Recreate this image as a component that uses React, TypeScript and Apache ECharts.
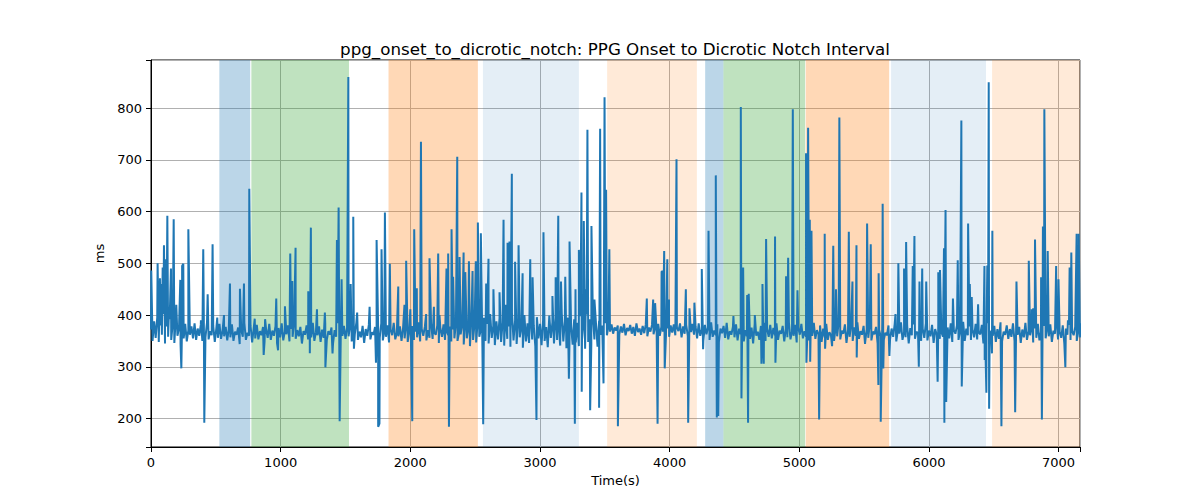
import React, { useEffect, useRef } from "react";
import * as echarts from "echarts";

const TITLE = "ppg_onset_to_dicrotic_notch: PPG Onset to Dicrotic Notch Interval";
const X_NAME = "Time(s)";
const Y_NAME = "ms";
const X_TICKS = [0, 1000, 2000, 3000, 4000, 5000, 6000, 7000];
const Y_TICKS = [200, 300, 400, 500, 600, 700, 800];
const X_MIN = 0;
const X_MAX = 7165;
const Y_MIN = 145;
const Y_MAX = 893;

// baseline samples, one every STEP seconds (values read as estimates from the picture)
const STEP = 12;
const baseline = [
  372, 350, 388, 356, 395, 348, 380, 362, 402, 345, 378, 358, 392, 352, 385, 346, 398, 360, 375, 343, 390, 355, 383, 349, 371,
  362, 378, 355, 384, 352, 374, 360, 381, 350, 372, 357, 386, 353, 369, 361, 379, 348, 375, 356, 383, 354, 370, 359, 377, 351,
  373, 357, 382, 350, 368, 362, 376, 344, 371, 358, 385, 352, 366, 360, 379, 347, 374, 355, 381, 353, 369, 361, 377, 349, 372,
  356, 383, 352, 370, 360, 378, 346, 375, 357, 384, 351, 368, 363, 380, 349, 373, 358, 386, 354, 371, 359, 377, 345, 369, 362,
  380, 353, 374, 357, 385, 350, 367, 361, 378, 348, 372, 356, 383, 352, 369, 362, 376, 345, 371, 358, 384, 351, 366, 360, 379,
  354, 375, 359, 382, 349, 370, 363, 386, 352, 368, 357, 379, 346, 373, 360, 381, 353, 367, 362, 377, 350, 374, 356, 384, 351,
  369, 358, 380, 347, 372, 361, 385, 353, 366, 359, 378, 350, 375, 355, 383, 348, 370, 363, 379, 352, 368, 357, 386, 349, 373,
  360, 377, 351, 371, 356, 384, 354, 367, 362, 380, 346, 374, 358, 382, 352, 369, 361, 378, 349, 372, 355, 385, 350, 366, 363,
  381, 343, 392, 355, 376, 340, 398, 352, 385, 347, 390, 358, 372, 338, 395, 350, 383, 345, 402, 356, 379, 342, 388, 353, 394,
  348, 386, 341, 397, 354, 378, 339, 404, 351, 389, 344, 393, 357, 375, 337, 400, 349, 384, 346, 391, 353, 380, 340, 396, 355,
  383, 342, 390, 350, 377, 338, 399, 356, 386, 345, 394, 352, 381, 341, 403, 349, 388, 336, 395, 354, 379, 343, 392, 347, 385,
  340, 398, 352, 387, 335, 401, 348, 392, 344, 396, 353, 384, 339, 389, 362, 380, 366, 384, 361, 378, 368, 382, 364, 376, 370,
  380, 363, 378, 366, 383, 361, 375, 369, 381, 364, 377, 360, 384, 367, 374, 362, 379, 365, 382, 359, 376, 368, 381, 363, 378,
  365, 383, 360, 377, 368, 385, 362, 374, 358, 380, 366, 382, 361, 376, 369, 384, 357, 378, 364, 381, 360, 375, 367, 383, 362,
  378, 355, 384, 360, 372, 350, 381, 363, 376, 352, 386, 358, 370, 361, 382, 348, 374, 365, 379, 356, 385, 353, 369, 362, 377,
  357, 382, 351, 374, 363, 387, 349, 371, 359, 380, 354, 376, 345, 383, 360, 368, 352, 379, 362, 385, 350, 373, 358, 381, 355,
  375, 361, 384, 352, 370, 364, 379, 349, 373, 357, 386, 353, 368, 360, 381, 347, 376, 362, 383, 355, 369, 358, 378, 351, 372,
  360, 385, 354, 371, 363, 380, 348, 374, 357, 383, 352, 367, 361, 378, 350, 375, 359, 387, 353, 370, 364, 382, 346, 372, 358,
  381, 350, 376, 360, 386, 354, 369, 362, 379, 347, 373, 356, 384, 351, 368, 363, 377, 345, 371, 359, 385, 352, 366, 361, 380,
  353, 374, 358, 383, 349, 371, 364, 386, 352, 367, 357, 379, 345, 375, 361, 382, 354, 368, 363, 378, 350, 373, 356, 384, 351,
  370, 359, 381, 346, 373, 362, 385, 354, 367, 358, 377, 349, 376, 355, 384, 348, 371, 364, 380, 352, 369, 356, 387, 350, 374,
  361, 378, 352, 372, 357, 383, 353, 366, 363, 381, 345, 375, 359, 384, 351, 370, 360, 379, 348, 373, 354, 386, 349, 368, 362,
  380, 354, 373, 358, 384, 350, 368, 362, 377, 346, 372, 357, 385, 352, 369, 361, 378, 347, 374, 356, 383, 351, 367, 360, 379,
  355, 376, 359, 382, 348, 370, 364, 387, 353, 368, 356, 380, 345, 374, 362, 381, 352, 369, 361, 377, 350, 372, 357, 384, 352,
];

// excursions [time s, ms]
const spikes: [number, number][] = [
  [2, 486], [51, 500], [69, 471], [78, 460], [90, 492], [100, 535], [108, 508], [126, 592], [140, 416], [154, 490],
  [175, 585], [195, 420], [226, 468], [234, 297], [240, 495], [249, 499], [288, 566], [385, 390], [403, 527], [411, 192],
  [437, 440], [475, 537], [511, 395], [563, 400], [609, 461], [686, 451], [717, 461], [758, 644],
  [800, 393], [869, 323], [880, 392], [966, 432], [980, 332], [1033, 417], [1074, 519], [1090, 466], [1115, 530],
  [1213, 446], [1225, 326], [1233, 569], [1280, 411], [1341, 405], [1345, 299], [1400, 326], [1434, 545], [1447, 608],
  [1455, 195], [1470, 469], [1522, 860], [1540, 460], [1560, 590], [1565, 335],
  [1590, 405], [1686, 416], [1735, 308], [1740, 545], [1752, 184], [1762, 190], [1778, 527], [1804, 598], [1842, 499],
  [1907, 455], [1955, 420], [1968, 505], [2000, 411], [2015, 195], [2030, 566], [2050, 452], [2082, 735], [2122, 402],
  [2148, 510], [2182, 416], [2215, 519], [2225, 400], [2279, 490], [2292, 519], [2298, 184], [2318, 566], [2330, 474],
  [2362, 706],
  [2380, 512], [2411, 521], [2424, 483], [2452, 504], [2480, 485], [2505, 504], [2521, 579], [2544, 558], [2562, 189],
  [2585, 461], [2603, 509], [2641, 450], [2688, 444], [2719, 584], [2735, 420], [2750, 540], [2765, 542], [2783, 673],
  [2808, 503], [2835, 535], [2866, 481], [2925, 508], [2943, 473], [2973, 197], [3027, 560], [3096, 437], [3121, 473],
  [3141, 592],
  [3162, 465], [3195, 474], [3223, 277], [3228, 542], [3269, 190], [3274, 450], [3300, 526], [3320, 637], [3322, 252],
  [3338, 582], [3355, 450], [3366, 758], [3387, 216], [3397, 572], [3420, 430], [3456, 221], [3464, 760], [3490, 268],
  [3498, 821], [3510, 642], [3535, 527], [3601, 185], [3824, 432], [3873, 430], [3888, 423], [3907, 190], [3938, 484],
  [3947, 484], [3958, 524], [3962, 297], [3982, 508], [3995, 430], [4053, 701], [4125, 450], [4143, 192], [4153, 413],
  [4191, 424], [4248, 489], [4258, 334], [4300, 563], [4356, 670], [4364, 202], [4375, 205], [4492, 398], [4549, 802],
  [4554, 239], [4567, 492], [4598, 439], [4605, 192], [4610, 441], [4657, 400], [4708, 306], [4716, 460],
  [4726, 306], [4744, 547], [4813, 552], [4816, 308], [4898, 475], [4914, 511], [4950, 798], [4986, 448], [5052, 713],
  [5055, 308], [5068, 762], [5081, 584], [5084, 310], [5094, 563], [5153, 198], [5196, 557], [5199, 335], [5253, 340],
  [5262, 534], [5283, 450], [5309, 782], [5382, 561], [5410, 465], [5441, 535], [5443, 318], [5507, 344],
  [5523, 577], [5551, 537], [5610, 265], [5612, 481], [5628, 194], [5643, 615], [5648, 297], [5695, 321], [5742, 402],
  [5764, 500], [5808, 490], [5824, 541], [5875, 495], [5888, 553], [5922, 300], [5927, 465], [5948, 490], [5979, 465],
  [6067, 271], [6072, 483], [6085, 487], [6116, 529], [6119, 192], [6128, 603], [6133, 232], [6185, 432], [6222, 506],
  [6250, 776], [6253, 262],
  [6302, 577], [6315, 460], [6330, 435], [6379, 421], [6428, 495], [6430, 313], [6443, 250], [6450, 496], [6461, 850],
  [6464, 219], [6486, 326], [6489, 563], [6559, 185], [6665, 212], [6675, 465], [6770, 505], [6793, 411], [6804, 413],
  [6818, 546], [6865, 473], [6871, 198], [6879, 571], [6890, 798], [6916, 524], [6981, 495], [6999, 469], [7052, 299],
  [7072, 390], [7085, 492], [7098, 521], [7139, 557], [7155, 557],
];

// shaded intervals [start s, end s]
const spanRanges: [number, number][] = [
  [527, 765], [774, 1527], [1832, 2521], [2560, 3300], [3518, 4210],
  [4274, 4415], [4415, 5045], [5050, 5693], [5708, 6440], [6487, 7165],
];
const spanKinds = ["blue", "green", "orange", "lightBlue", "lightOrange", "blue", "green", "orange", "lightBlue", "lightOrange"];

const KIND_STYLE: Record<string, { color: string; opacity: number }> = {
  blue: { color: "#1f77b4", opacity: 0.3 },
  green: { color: "#2ca02c", opacity: 0.3 },
  orange: { color: "#ff7f0e", opacity: 0.3 },
  lightBlue: { color: "#1f77b4", opacity: 0.12 },
  lightOrange: { color: "#ff7f0e", opacity: 0.16 },
};

const FONT = "DejaVu Sans";

export default function App() {
  const ref = useRef<HTMLDivElement>(null);
  useEffect(() => {
    if (!ref.current) return;
    const chart = echarts.init(ref.current, null, { renderer: "svg" });
    const points = [
      ...baseline.map((v, i) => [i * STEP, v] as [number, number]),
      ...spikes,
    ].sort((a, b) => a[0] - b[0]);

    chart.setOption({
      animation: false,
      backgroundColor: "#ffffff",
      title: {
        text: TITLE,
        left: 610,
        top: 35,
        textAlign: "center",
        textStyle: { fontFamily: FONT, fontSize: 16.7, fontWeight: "normal", color: "#000" },
      },
      grid: {
        left: 151,
        right: 120,
        top: 60,
        bottom: 53,
        show: true,
        borderColor: "#000",
        borderWidth: 1,
        backgroundColor: "transparent",
      },
      xAxis: {
        type: "value",
        min: X_MIN,
        max: X_MAX,
        interval: 1000,
        name: X_NAME,
        nameLocation: "middle",
        nameGap: 27,
        nameTextStyle: { fontFamily: FONT, fontSize: 13, color: "#000" },
        axisLine: { show: true, lineStyle: { color: "#000", width: 1 } },
        axisTick: { show: true, inside: false, length: 5, lineStyle: { color: "#000", width: 1 } },
        axisLabel: {
          fontFamily: FONT,
          fontSize: 13,
          color: "#000",
          margin: 9,
          formatter: (v: number) => (X_TICKS.includes(v) ? String(v) : ""),
        },
        splitLine: { show: true, lineStyle: { color: "#b0b0b0", width: 1 } },
      },
      yAxis: {
        type: "value",
        min: Y_MIN,
        max: Y_MAX,
        splitNumber: 7,
        name: Y_NAME,
        nameLocation: "middle",
        nameGap: 44,
        nameTextStyle: { fontFamily: FONT, fontSize: 13, color: "#000" },
        axisLine: { show: true, lineStyle: { color: "#000", width: 1 } },
        axisTick: { show: true, inside: false, length: 5, lineStyle: { color: "#000", width: 1 } },
        axisLabel: {
          fontFamily: FONT,
          fontSize: 13,
          color: "#000",
          margin: 9,
          formatter: (v: number) => (Y_TICKS.includes(v) ? String(v) : ""),
        },
        splitLine: { show: true, lineStyle: { color: "#b0b0b0", width: 1 } },
      },
      series: [
        {
          type: "line",
          z: 1,
          data: [],
          silent: true,
          markArea: {
            silent: true,
            data: spanRanges.map((r, i) => [
              { xAxis: r[0], itemStyle: KIND_STYLE[spanKinds[i]] },
              { xAxis: r[1] },
            ]),
          },
        },
        {
          type: "line",
          z: 3,
          data: points,
          showSymbol: false,
          symbol: "none",
          lineStyle: { color: "#1f77b4", width: 2 },
          clip: true,
        },
      ],
    });
    return () => chart.dispose();
  }, []);
  return (
    <div
      ref={ref}
      style={{ position: "absolute", left: 0, top: 0, width: 1200, height: 500 }}
    />
  );
}
